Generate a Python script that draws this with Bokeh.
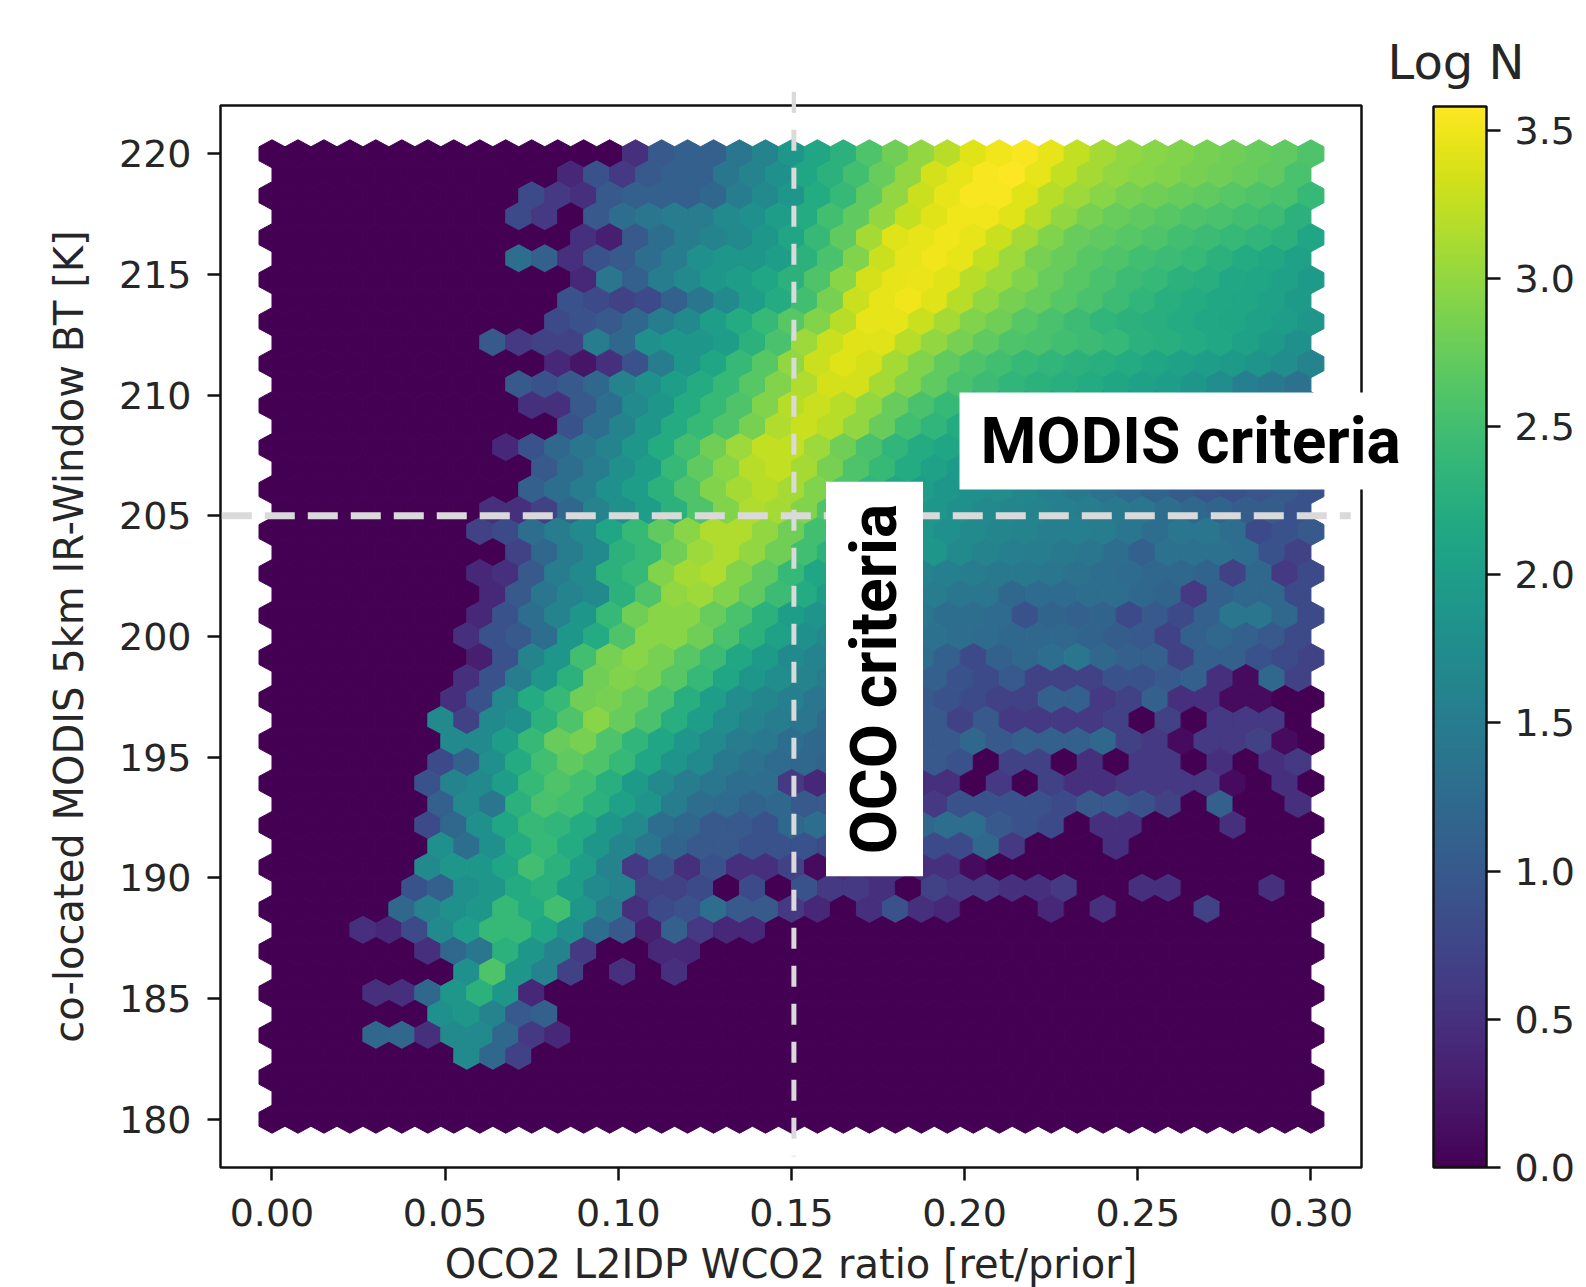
from bokeh.embed import file_html
from bokeh.resources import INLINE
from bokeh.plotting import figure
from bokeh.models import (ColumnDataSource, LinearColorMapper, ColorBar, FixedTicker, Label, Arrow,
                          PrintfTickFormatter)
from bokeh.palettes import Viridis256

Z = [0.0]
R00 = Z*14 + [0.5,1.0,1.1,1.1,1.4,1.6,1.9,2.1,2.3,2.6,2.8,3.0,3.2,3.4,3.5,3.55,3.45,3.25,3.1,3.0,2.95,2.9,2.85,2.8,2.75,2.7,2.6]
R01 = Z*11 + [0.4,0.9,0.6,1.0,1.1,1.1,1.4,1.6,1.8,2.1,2.3,2.5,2.75,3.0,3.35,3.45,3.55,3.57,3.45,3.25,3.1,3.0,2.95,2.9,2.85,2.8,2.75,2.7,2.55]
R02 = Z*10 + [0.8,0.6,0.5,1.0,1.1,1.1,1.1,1.2,1.5,1.7,1.9,2.2,2.4,2.7,3.0,3.3,3.45,3.55,3.55,3.4,3.2,3.05,2.95,2.85,2.8,2.75,2.7,2.65,2.6,2.55,2.4]
R03 = Z*9 + [0.8,0.6,0.0,1.0,1.3,1.4,1.5,1.5,1.7,1.8,2.0,2.2,2.5,2.7,3.0,3.25,3.4,3.5,3.5,3.4,3.2,3.0,2.85,2.75,2.7,2.65,2.6,2.55,2.5,2.45,2.3]
R04 = Z*12 + [0.5,0.3,1.0,1.3,1.5,1.6,1.7,1.9,2.1,2.4,2.7,3.1,3.4,3.45,3.5,3.45,3.3,3.1,2.9,2.75,2.7,2.65,2.6,2.5,2.45,2.4,2.35,2.3,2.1]
R05 = Z*9 + [1.3,1.1,0.5,0.9,1.0,1.3,1.5,1.8,1.9,1.9,2.0,2.3,2.55,2.9,3.3,3.45,3.5,3.45,3.25,3.05,2.85,2.75,2.65,2.6,2.5,2.45,2.4,2.3,2.2,2.15,2.05]
R06 = Z*12 + [0.4,1.4,1.1,1.5,1.7,1.9,2.0,2.1,2.3,2.6,2.95,3.35,3.45,3.47,3.4,3.2,3.05,2.9,2.75,2.65,2.55,2.45,2.4,2.3,2.25,2.15,2.1,2.05,1.95]
R07 = Z*11 + [0.9,0.8,0.7,0.8,1.1,1.4,1.7,2.0,2.2,2.5,2.85,3.3,3.45,3.5,3.4,3.2,3.0,2.85,2.75,2.65,2.55,2.45,2.35,2.25,2.2,2.15,2.1,2.05,1.95]
R08 = Z*11 + [0.8,0.9,1.0,1.2,1.5,1.7,2.0,2.2,2.4,2.65,2.9,3.2,3.45,3.45,3.3,3.1,2.9,2.8,2.65,2.55,2.45,2.35,2.3,2.25,2.2,2.15,2.1,2.05,2.0,1.9]
R09 = Z*8 + [1.0,0.6,0.7,0.7,1.5,1.2,1.8,1.9,1.9,2.0,2.3,2.55,3.05,3.3,3.42,3.4,3.2,3.0,2.85,2.7,2.6,2.55,2.5,2.45,2.4,2.3,2.25,2.2,2.15,2.05,1.95,1.8]
R10 = Z*11 + [0.4,0.2,0.5,0.9,1.5,1.9,2.1,2.4,2.65,3.0,3.3,3.4,3.35,3.1,2.9,2.7,2.6,2.5,2.4,2.35,2.3,2.25,2.2,2.1,2.05,2.0,1.95,1.85,1.75,1.6]
R11 = Z*9 + [1.0,0.9,1.0,1.2,1.6,1.8,2.0,2.2,2.4,2.65,2.9,3.15,3.35,3.35,3.1,2.9,2.7,2.55,2.45,2.35,2.3,2.25,2.2,2.1,2.05,2.0,1.9,1.75,1.55,1.45,1.35]
R12 = Z*10 + [0.5,0.5,1.0,1.3,1.7,1.9,2.2,2.4,2.6,2.9,3.2,3.3,3.2,3.0,2.75,2.55,2.4,2.25,2.15,2.05,2.0,1.95,1.85,1.8,1.75,1.7,1.55,1.45,1.4,1.35,1.2]
R13 = Z*11 + [0.9,1.3,1.6,1.9,2.2,2.4,2.6,2.85,3.15,3.3,3.2,3.0,2.75,2.5,2.35,2.2,2.1,2.05,1.95,1.9,1.8,1.75,1.7,1.65,1.6,1.45,1.35,1.3,1.2]
R14 = Z*9 + [0.4,0.9,1.2,1.4,1.6,1.9,2.2,2.5,2.8,3.05,3.25,3.25,3.05,2.8,2.55,2.35,2.2,2.1,2.0,1.95,1.85,1.75,1.7,1.65,1.6,1.55,1.45,1.35,1.3,1.25,1.15,1.0]
R15 = Z*10 + [1.0,1.3,1.5,1.8,2.0,2.4,2.7,2.95,3.2,3.25,3.1,2.85,2.6,2.4,2.2,2.05,1.95,1.85,1.75,1.7,1.65,1.55,1.5,1.45,1.35,1.25,1.2,1.1,1.05,0.95]
R16 = Z*10 + [1.1,1.3,1.5,1.8,2.0,2.3,2.6,2.9,3.1,3.2,3.1,2.9,2.6,2.35,2.15,2.0,1.9,1.8,1.75,1.65,1.55,1.45,1.35,1.25,1.15,1.05,0.95,0.9,0.95,1.0,0.9]
R17 = Z*8 + [0.5,0.5,0.7,1.2,1.6,1.8,2.0,2.3,2.6,2.9,3.15,3.1,2.9,2.6,2.35,2.1,2.0,1.9,1.8,1.7,1.65,1.6,1.55,1.5,1.45,1.4,1.3,1.2,1.15,1.05,1.05,0.9]
R18 = Z*8 + [0.7,0.8,1.3,1.5,1.7,2.1,2.4,2.7,2.95,3.15,3.15,3.0,2.8,2.5,2.3,2.15,2.0,1.9,1.8,1.7,1.65,1.6,1.55,1.55,1.5,1.4,1.3,1.4,1.4,1.3,0.8,0.9,1.0]
R19 = Z*9 + [0.7,1.2,1.5,1.7,2.3,2.4,2.8,3.05,3.15,3.0,2.8,2.5,2.3,2.15,2.05,1.95,1.9,1.7,1.6,1.55,1.5,1.45,1.4,1.3,1.1,1.35,1.35,1.35,1.3,0.9,0.7]
R20 = Z*8 + [0.4,0.5,1.0,1.5,1.7,2.3,2.4,2.9,3.1,3.15,2.9,2.7,2.4,2.1,1.95,1.8,1.7,1.6,1.55,1.5,1.45,1.45,1.4,1.35,1.3,1.25,1.2,1.2,1.15,0.7,1.2,0.6,0.8]
R21 = Z*8 + [0.4,1.0,1.4,1.6,1.7,2.3,2.6,3.0,3.05,2.9,2.7,2.45,2.2,2.0,1.85,1.7,1.55,1.5,1.4,1.4,1.2,1.25,1.25,1.3,1.3,1.2,1.15,0.6,1.1,1.2,1.2,0.8]
R22 = Z*8 + [0.4,0.9,1.3,1.6,1.9,2.4,2.8,2.95,2.95,2.75,2.55,2.3,2.0,1.85,1.7,1.55,1.45,1.4,1.3,1.3,1.25,0.9,1.15,1.1,1.15,0.8,1.0,0.8,1.1,1.4,1.4,1.2,0.8]
R23 = Z*7 + [0.5,0.9,1.0,1.3,1.9,2.2,2.6,2.95,2.95,2.8,2.55,2.3,2.05,1.8,1.7,1.6,1.5,1.4,1.35,1.3,1.25,1.2,1.2,1.2,1.15,1.05,1.0,0.7,1.1,1.2,1.1,1.0,0.8]
R24 = Z*8 + [0.3,0.9,1.6,1.9,2.5,2.85,2.95,2.85,2.65,2.45,2.15,1.95,1.7,1.6,1.5,1.4,1.3,1.3,1.1,0.8,1.1,1.2,1.3,1.4,1.2,1.1,1.1,0.7,1.1,1.1,0.9,0.8,0.7]
R25 = Z*7 + [0.5,0.9,1.5,1.9,2.3,2.8,2.9,2.85,2.65,2.4,2.1,1.9,1.75,1.6,1.5,1.35,1.25,1.2,1.1,0.9,0.8,1.0,0.7,0.7,0.7,0.9,0.9,1.0,1.1,0.5,0.1,1.2,0.7]
R26 = Z*7 + [0.5,0.9,1.7,2.2,2.4,2.8,2.85,2.75,2.55,2.25,2.0,1.75,1.65,1.55,1.4,1.25,1.2,1.1,1.0,0.9,0.8,0.7,0.7,1.1,1.1,0.6,0.7,1.1,0.5,0.5,0.1,0.1,0.0,0.0]
R27 = Z*6 + [1.7,0.7,1.7,1.8,2.3,2.6,2.95,2.75,2.55,2.25,2.0,1.75,1.6,1.5,1.4,1.25,1.2,1.15,1.1,1.0,0.7,1.0,0.6,0.6,0.6,0.6,0.7,0.0,0.7,0.0,0.6,0.6,0.6,0.0]
R28 = Z*7 + [1.7,1.7,2.0,2.4,2.75,2.85,2.6,2.35,2.1,1.9,1.7,1.5,1.45,1.3,1.2,1.1,1.1,1.05,1.0,1.0,1.2,1.0,1.1,1.1,1.1,1.2,0.7,0.6,0.1,0.6,0.6,0.7,0.1,0.0]
R29 = Z*6 + [0.8,1.1,1.8,2.2,2.5,2.7,2.6,2.4,2.1,1.85,1.7,1.45,1.35,1.25,1.2,1.15,1.15,1.3,1.5,1.0,0.9,0.0,0.7,0.7,0.0,0.5,0.0,0.6,0.6,0.0,0.5,0.0,0.5,0.6]
R30 = Z*6 + [0.9,1.6,1.7,2.0,2.4,2.6,2.5,2.25,1.95,1.7,1.5,1.4,1.3,1.3,0.6,0.4,0.7,0.6,0.6,0.5,0.5,0.0,0.6,0.0,0.7,0.5,0.5,0.6,0.6,0.6,0.6,0.1,0.0,0.5,0.0]
R31 = Z*6 + [1.1,1.7,1.4,2.3,2.55,2.5,2.3,2.05,1.85,1.5,1.3,1.25,1.15,1.2,1.0,1.0,0.9,0.8,0.7,0.6,0.9,0.9,0.9,0.9,0.8,1.0,1.0,0.9,0.7,0.0,1.1,0.0,0.0,0.5]
R32 = Z*6 + [0.8,1.2,1.8,2.1,2.4,2.35,2.2,1.9,1.7,1.3,1.2,1.0,1.0,0.9,1.2,1.3,1.1,1.1,1.1,1.2,1.3,1.3,1.0,0.9,0.8,0.0,0.5,0.5,0.0,0.0,0.0,0.5,0.0,0.0,0.0]
R33 = Z*6 + [1.8,1.3,1.8,2.2,2.4,2.2,1.9,1.65,1.4,1.15,1.0,1.0,0.9,0.9,0.9,0.8,0.7,0.8,0.7,0.8,0.8,1.2,0.6,0.0,0.0,0.0,0.5]
R34 = Z*6 + [1.7,1.9,1.9,2.1,2.5,2.3,2.0,1.6,0.6,0.9,0.5,0.9,0.5,0.5,0.7,0.1,0.5,0.5,0.5,0.5,0.5,0.1]
R35 = Z*5 + [0.9,1.1,1.8,1.9,2.2,2.3,2.0,1.7,1.6,0.7,0.7,0.8,0.0,0.8,0.0,0.9,0.6,0.6,0.5,0.0,0.7,0.6,0.6,0.5,0.5,0.6,0.0,0.0,0.5,0.5,0.0,0.0,0.0,0.5]
R36 = Z*5 + [1.2,1.6,1.8,1.9,2.4,2.2,2.5,1.9,1.5,0.5,0.8,0.9,1.3,1.0,1.0,0.6,0.4,0.0,0.5,0.9,0.5,0.4,0.0,0.0,0.0,0.4,0.0,0.5,0.0,0.0,0.0,0.7]
R37 = Z*3 + [0.5,0.4,0.8,1.7,2.0,2.4,2.4,2.1,1.8,1.3,1.0,0.3,1.1,0.6,0.4,0.4]
R38 = Z*6 + [0.5,1.2,1.4,2.3,1.9,1.6,0.6,0.0,0.0,0.4,0.4]
R39 = Z*7 + [1.8,2.6,1.9,1.6,0.7,0.0,0.5,0.0,0.5]
R40 = Z*4 + [0.5,0.5,1.2,1.9,2.3,1.9,0.4]
R41 = Z*6 + [1.8,1.9,1.6,1.0,1.1]
R42 = Z*4 + [1.2,1.2,0.5,1.7,1.7,1.2,0.6,0.4]
R43 = Z*7 + [1.7,1.2,0.7]
R44 = []
R45 = []
R46 = []

ROWS = [R00,R01,R02,R03,R04,R05,R06,R07,R08,R09,R10,R11,R12,R13,R14,R15,R16,R17,R18,R19,R20,R21,R22,R23,
        R24,R25,R26,R27,R28,R29,R30,R31,R32,R33,R34,R35,R36,R37,R38,R39,R40,R41,R42,R43,R44,R45,R46]

XTICKS = [0.00, 0.05, 0.10, 0.15, 0.20, 0.25, 0.30]
YTICKS = [180, 185, 190, 195, 200, 205, 210, 215, 220]
CTICKS = [0.0, 0.5, 1.0, 1.5, 2.0, 2.5, 3.0, 3.5]
VMAX = 3.58
OCO_X = 0.1507
MODIS_Y = 205
XLABEL = "OCO2 L2IDP WCO2 ratio [ret/prior]"
YLABEL = "co-located MODIS 5km IR-Window BT [K]"

# matplotlib-style hexbin lattice: gridsize 40 -> 41/40 columns, 47 rows
SX = 0.3 / 40
SY = 40 / 23
xs, ys, vs = [], [], []
for r, row in enumerate(ROWS):
    n = 40 if r % 2 else 41
    assert len(row) <= n, (r, len(row))
    row = row + [0.0] * (n - len(row))
    for i, v in enumerate(row):
        cx = SX * (i + (0.5 if r % 2 else 0.0))
        cy = 220 - r * SY / 2
        xs.append([cx + SX * a for a in (0.5, 0.5, 0, -0.5, -0.5, 0)])
        ys.append([cy + SY / 3 * b for b in (-0.5, 0.5, 1, 0.5, -0.5, -1)])
        vs.append(v)

mapper = LinearColorMapper(palette=Viridis256, low=0, high=VMAX)
FONT = "DejaVu Sans"
TC = "#262626"
FS = "38px"
LS = "40px"

p = figure(width=1578, height=1286, output_backend="svg", toolbar_location=None,
           x_range=(-0.01487, 0.3146), y_range=(178.0, 222.0),
           frame_width=1141, frame_height=1062,
           min_border_left=220, min_border_right=217, min_border_top=105, min_border_bottom=119)
p.grid.visible = False
p.background_fill_color = "white"
p.outline_line_color = "#111111"
p.outline_line_width = 2.5

p.patches("xs", "ys", source=ColumnDataSource(dict(xs=xs, ys=ys, v=vs)),
          fill_color={"field": "v", "transform": mapper},
          line_color={"field": "v", "transform": mapper}, line_width=1)

for ax, ticks in ((p.xaxis[0], XTICKS), (p.yaxis[0], YTICKS)):
    ax.ticker = FixedTicker(ticks=ticks)
    ax.major_tick_in = 0
    ax.major_tick_out = 13
    ax.minor_tick_line_color = None
    ax.major_tick_line_width = 2.5
    ax.major_tick_line_color = "#111111"
    ax.axis_line_color = None
    ax.major_label_text_font = FONT
    ax.major_label_text_font_size = FS
    ax.major_label_text_color = TC
    ax.axis_label_text_font = FONT
    ax.axis_label_text_font_size = LS
    ax.axis_label_text_color = TC
    ax.axis_label_text_font_style = "normal"
p.xaxis[0].formatter = PrintfTickFormatter(format="%.2f")
p.xaxis[0].axis_label = XLABEL
p.yaxis[0].axis_label = YLABEL
p.xaxis[0].major_label_standoff = 18
p.yaxis[0].major_label_standoff = 16
p.xaxis[0].axis_label_standoff = 12
p.yaxis[0].axis_label_standoff = 24

DASH = "#dadada"
# the dashed OCO line starts above the frame: its first dash lives in a side panel, which is not clipped
p.add_layout(Label(x=OCO_X, y=222.13, text=" ", text_font_size="1px", text_align="center", text_baseline="middle",
                   padding=(2, 10), background_fill_color=DASH), "right")
p.add_layout(Arrow(end=None, start=None, x_start=OCO_X, y_start=221.0, x_end=OCO_X, y_end=178.46,
                   line_color=DASH, line_width=5, line_dash="21 17"))
p.add_layout(Arrow(end=None, start=None, x_start=-0.0145, y_start=MODIS_Y, x_end=0.3115, y_end=MODIS_Y,
                   line_color=DASH, line_width=7, line_dash="30 13"))

cb = ColorBar(color_mapper=mapper, ticker=FixedTicker(ticks=CTICKS), width=53, height=1061,
              location=(1213, 0), padding=0, margin=0, major_tick_in=0, major_tick_out=14,
              major_tick_line_color="#111111", major_tick_line_width=2.5, bar_line_color="#111111",
              bar_line_width=2.5, major_label_text_font=FONT, major_label_text_font_size=FS,
              major_label_text_color=TC, label_standoff=14, background_fill_color=None,
              border_line_color=None, formatter=PrintfTickFormatter(format="%.1f"))
p.add_layout(cb)

p.add_layout(Label(x=22, y=1106, x_units="screen", y_units="screen", text="Log N",
                   text_font=FONT, text_font_size="48px", text_color=TC, text_baseline="middle"), "right")

p.add_layout(Label(x=739, y=-335.5, x_units="screen", y_units="screen", text="MODIS criteria",
                   text_font="Roboto", text_font_style="bold", text_font_size="64px", text_color="black",
                   text_baseline="middle", padding=(21, 35, 11, 11), background_fill_color="white"), "above")
p.add_layout(Label(x=654, y=488.5, x_units="screen", y_units="screen", text="OCO criteria",
                   text_font="Roboto", text_font_style="bold", text_font_size="64px", text_color="black",
                   text_align="center", text_baseline="middle", angle=90, angle_units="deg",
                   padding=(22, 11), background_fill_color="white"))

open("out.html", "w").write(file_html(p, INLINE))
